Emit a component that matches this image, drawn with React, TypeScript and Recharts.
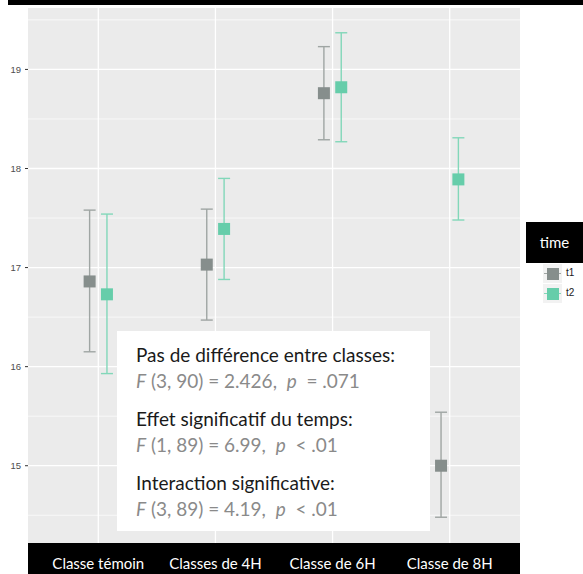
import React from 'react';
import { ComposedChart, Scatter, ErrorBar, XAxis, YAxis, CartesianGrid } from 'recharts';

const categories = ['Classe témoin', 'Classes de 4H', 'Classe de 6H', 'Classe de 8H'];
const t1Mean = [16.86, 17.03, 18.76, 15.0];
const t1Low = [16.15, 16.47, 18.29, 14.48];
const t1High = [17.58, 17.59, 19.23, 15.54];
const t2Mean = [16.73, 17.39, 18.82, 17.89];
const t2Low = [15.93, 16.88, 18.27, 17.48];
const t2High = [17.54, 17.9, 19.37, 18.31];
const yTicks = [15, 16, 17, 18, 19];
const yMinor = [14.5, 15.5, 16.5, 17.5, 18.5, 19.5];

const DODGE = 0.074;

const buildRows = (mean: number[], low: number[], high: number[], offset: number) =>
  mean.map((m, i) => ({ x: i + 1 + offset, y: m, err: [m - low[i], high[i] - m] }));

const t1Rows = buildRows(t1Mean, t1Low, t1High, -DODGE);
const t2Rows = buildRows(t2Mean, t2Low, t2High, DODGE);

const C1 = '#868e8c';
const C1_ERR = '#9fa5a3';
const C2 = '#66cdaa';
const C2_ERR = '#82d7b9';

const square = (color: string) => (props: any) => {
  const { cx, cy } = props;
  return <rect x={cx - 6} y={cy - 6} width={12} height={12} fill={color} />;
};

const XTick = (props: any) => {
  const { x, payload } = props;
  return (
    <text x={x} y={569} textAnchor="middle" fill="#ffffff" fontSize={15} fontFamily="Lato">
      {categories[payload.value - 1]}
    </text>
  );
};

const statText: React.CSSProperties = { color: '#8a8a8a', whiteSpace: 'pre' };
const headText: React.CSSProperties = { color: '#1a1a1a', whiteSpace: 'pre' };

export default function App() {
  return (
    <div style={{ position: 'relative', width: 583, height: 574, fontFamily: 'Lato' }}>
      <style>{'body{margin:0}'}</style>
      <div style={{ position: 'absolute', left: 8, top: 0, width: 575, height: 5, background: '#000' }} />
      <div style={{ position: 'absolute', left: 28, top: 543, width: 492, height: 31, background: '#000' }} />
      <div style={{ position: 'absolute', left: 0, top: 0 }}>
        <ComposedChart width={583} height={574} margin={{ top: 8, right: 63, bottom: 0, left: 0 }}>
          <CartesianGrid
            fill="#ebebeb"
            stroke="#ffffff"
            strokeWidth={0.7}
            vertical={false}
            horizontalValues={yMinor}
          />
          <CartesianGrid stroke="#ffffff" strokeWidth={1.3} horizontalValues={yTicks} verticalValues={[1, 2, 3, 4]} />
          <XAxis
            type="number"
            dataKey="x"
            domain={[0.4, 4.6]}
            ticks={[1, 2, 3, 4]}
            height={31}
            axisLine={false}
            tickLine={false}
            tick={<XTick />}
            allowDataOverflow
          />
          <YAxis
            type="number"
            dataKey="y"
            domain={[14.22, 19.62]}
            ticks={yTicks}
            width={28}
            axisLine={false}
            tickSize={3}
            tickMargin={4}
            tickLine={{ stroke: '#333333' }}
            tick={{ fill: '#4d4d4d', fontSize: 9.5, fontFamily: 'Liberation Sans' }}
            allowDataOverflow
          />
          <Scatter data={t1Rows} shape={square(C1)} isAnimationActive={false}>
            <ErrorBar dataKey="err" direction="y" width={6} stroke={C1_ERR} strokeWidth={1.4} />
          </Scatter>
          <Scatter data={t2Rows} shape={square(C2)} isAnimationActive={false}>
            <ErrorBar dataKey="err" direction="y" width={6} stroke={C2_ERR} strokeWidth={1.4} />
          </Scatter>
        </ComposedChart>
      </div>

      <div
        style={{
          position: 'absolute',
          left: 117,
          top: 331,
          width: 313,
          height: 200,
          background: '#ffffff',
          boxSizing: 'border-box',
          paddingLeft: 19,
          paddingTop: 11,
          fontSize: 19,
          lineHeight: '26px',
        }}
      >
        <div style={headText}>Pas de différence entre classes:</div>
        <div style={statText}>
          <i>F</i> (3, 90) = 2.426,  <i>p</i>  = .071
        </div>
        <div style={{ ...headText, marginTop: 12 }}>Effet significatif du temps:</div>
        <div style={statText}>
          <i>F</i> (1, 89) = 6.99,  <i>p</i>  &lt; .01
        </div>
        <div style={{ ...headText, marginTop: 12 }}>Interaction significative:</div>
        <div style={statText}>
          <i>F</i> (3, 89) = 4.19,  <i>p</i>  &lt; .01
        </div>
      </div>

      <div
        style={{
          position: 'absolute',
          left: 526,
          top: 222,
          width: 57,
          height: 41,
          background: '#000',
          color: '#fff',
          fontSize: 15,
          lineHeight: '41px',
          textAlign: 'center',
        }}
      >
        time
      </div>
      {[
        { label: 't1', color: C1, err: C1_ERR },
        { label: 't2', color: C2, err: C2_ERR },
      ].map((k, i) => (
        <div key={k.label} style={{ position: 'absolute', left: 543, top: 264 + i * 20, height: 19 }}>
          <div style={{ position: 'absolute', left: 0, top: 0, width: 19, height: 19, background: '#f2f2f2' }} />
          <div style={{ position: 'absolute', left: 1, top: 9, width: 17, height: 1, background: k.err }} />
          <div style={{ position: 'absolute', left: 3.5, top: 3.5, width: 12, height: 12, background: k.color }} />
          <div
            style={{
              position: 'absolute',
              left: 23,
              top: 3,
              fontSize: 10,
              lineHeight: '12px',
              color: '#1a1a1a',
              fontFamily: 'Liberation Sans',
            }}
          >
            {k.label}
          </div>
        </div>
      ))}
    </div>
  );
}
